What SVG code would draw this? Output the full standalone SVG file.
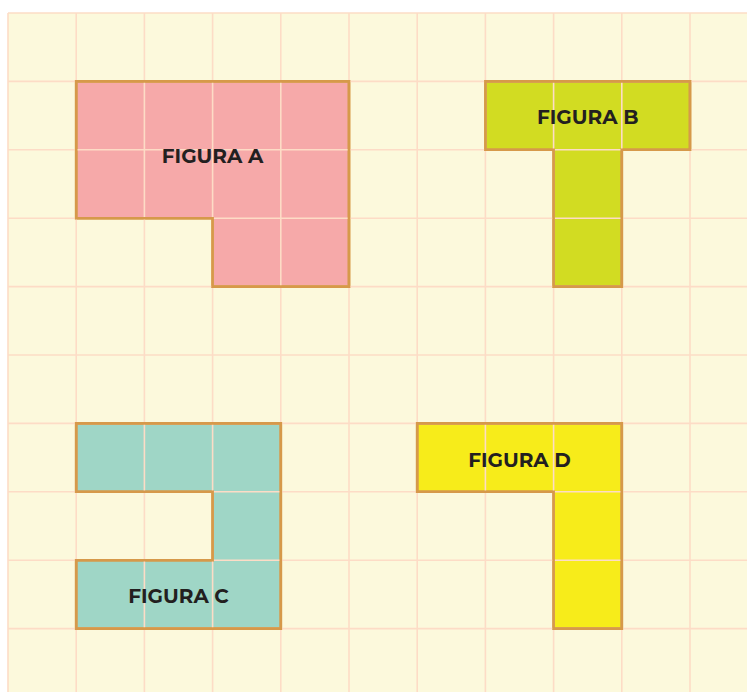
<svg xmlns="http://www.w3.org/2000/svg" width="747" height="692" viewBox="0 0 747 692">
<style>
.grid line{stroke:#fddcc6;stroke-width:1.6}
.fig{stroke:#d6994a;stroke-width:2.6;stroke-linejoin:miter}
.lbl{font-family:"Montserrat","Lato","Open Sans",sans-serif;font-weight:700;font-size:20px;fill:#231f20;text-anchor:middle}
</style>
<rect x="0" y="0" width="747" height="692" fill="#ffffff"/>
<rect x="8" y="13" width="739" height="679" fill="#fcf9dc"/>
<g id="fig-a"><path class="fig" fill="#f6a9a9" d="M76.2,81.4 H349 V286.6 H212.6 V218.2 H76.2 Z"/></g>
<g id="fig-b"><path class="fig" fill="#d2dc22" d="M485.4,81.4 H690 V149.8 H621.8 V286.6 H553.6 V149.8 H485.4 Z"/></g>
<g id="fig-c"><path class="fig" fill="#9fd6c6" d="M76.2,423.4 H280.8 V628.6 H76.2 V560.2 H212.6 V491.8 H76.2 Z"/></g>
<g id="fig-d"><path class="fig" fill="#f7ec1a" d="M417.2,423.4 H621.8 V628.6 H553.6 V491.8 H417.2 Z"/></g>
<g class="grid">
<line x1="8" y1="13" x2="8" y2="692"/>
<line x1="76.2" y1="13" x2="76.2" y2="692"/>
<line x1="144.4" y1="13" x2="144.4" y2="692"/>
<line x1="212.6" y1="13" x2="212.6" y2="692"/>
<line x1="280.8" y1="13" x2="280.8" y2="692"/>
<line x1="349" y1="13" x2="349" y2="692"/>
<line x1="417.2" y1="13" x2="417.2" y2="692"/>
<line x1="485.4" y1="13" x2="485.4" y2="692"/>
<line x1="553.6" y1="13" x2="553.6" y2="692"/>
<line x1="621.8" y1="13" x2="621.8" y2="692"/>
<line x1="690" y1="13" x2="690" y2="692"/>
<line x1="8" y1="13" x2="747" y2="13"/>
<line x1="8" y1="81.4" x2="747" y2="81.4"/>
<line x1="8" y1="149.8" x2="747" y2="149.8"/>
<line x1="8" y1="218.2" x2="747" y2="218.2"/>
<line x1="8" y1="286.6" x2="747" y2="286.6"/>
<line x1="8" y1="355" x2="747" y2="355"/>
<line x1="8" y1="423.4" x2="747" y2="423.4"/>
<line x1="8" y1="491.8" x2="747" y2="491.8"/>
<line x1="8" y1="560.2" x2="747" y2="560.2"/>
<line x1="8" y1="628.6" x2="747" y2="628.6"/>
</g>
<g id="outlines" fill="none" class="fig">
<path d="M76.2,81.4 H349 V286.6 H212.6 V218.2 H76.2 Z"/>
<path d="M485.4,81.4 H690 V149.8 H621.8 V286.6 H553.6 V149.8 H485.4 Z"/>
<path d="M76.2,423.4 H280.8 V628.6 H76.2 V560.2 H212.6 V491.8 H76.2 Z"/>
<path d="M417.2,423.4 H621.8 V628.6 H553.6 V491.8 H417.2 Z"/>
</g>
<g id="labels">
<text class="lbl" x="212.6" y="162.5">FIGURA A</text>
<text class="lbl" x="587.7" y="124">FIGURA B</text>
<text class="lbl" x="178.5" y="603">FIGURA C</text>
<text class="lbl" x="519.5" y="466.5">FIGURA D</text>
</g>
</svg>
